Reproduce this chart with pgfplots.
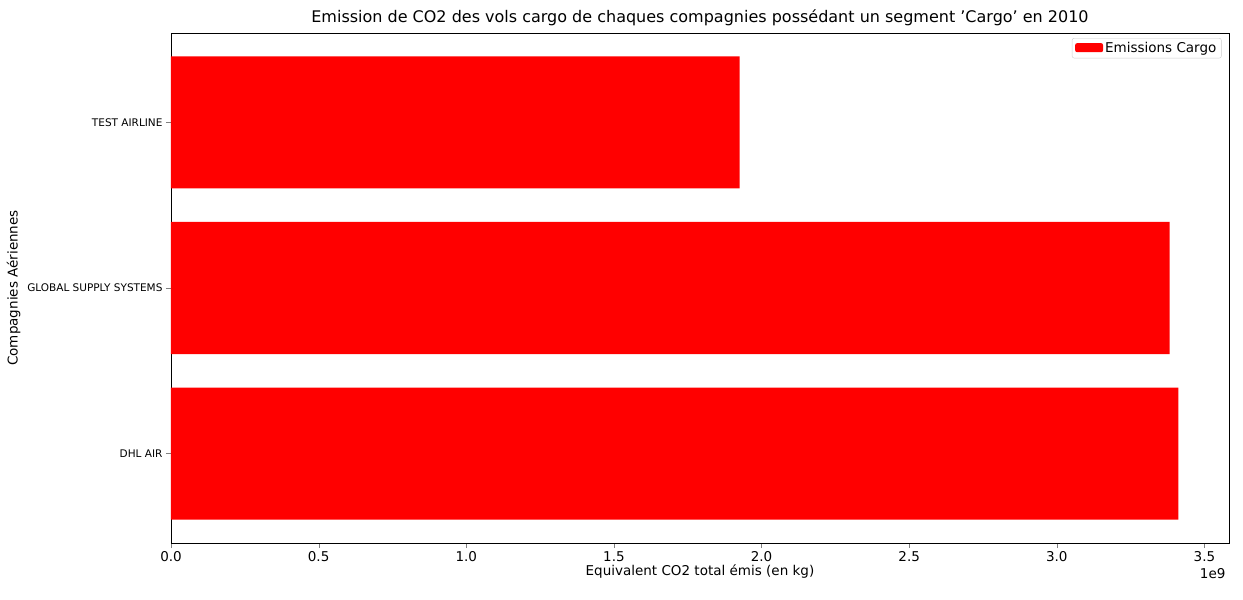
\documentclass[border=0pt]{standalone}
\usepackage{pgfplots}
\pgfplotsset{compat=1.18}
\usepackage{fontspec}
\setmainfont{DejaVu Sans}
\begin{document}
\begin{tikzpicture}
\begin{axis}[
  scale only axis, width=1058pt, height=510pt,
  xbar, bar width=132pt,
  xmin=0, xmax=3.583, ymin=-0.54, ymax=2.54,
  ytick={0,1,2}, yticklabels={DHL AIR,GLOBAL SUPPLY SYSTEMS,TEST AIRLINE},
  yticklabel style={font=\fontsize{10.5}{12}\selectfont},
  xtick={0,0.5,1,1.5,2,2.5,3,3.5},
  xticklabels={0.0,0.5,1.0,1.5,2.0,2.5,3.0,3.5},
  xticklabel style={font=\fontsize{13.5}{15}\selectfont},
  tick align=outside, xtick pos=bottom, ytick pos=left,
  major tick length=5pt,
  xlabel={Equivalent CO2 total émis (en kg)},
  ylabel={Compagnies Aériennes},
  xlabel style={font=\fontsize{13.5}{15}\selectfont, yshift=4pt},
  ylabel style={font=\fontsize{13.5}{15}\selectfont},
  title={Emission de CO2 des vols cargo de chaques compagnies possédant un segment 'Cargo' en 2010},
  title style={font=\fontsize{16}{18}\selectfont, yshift=-2pt},
  legend style={at={(0.993,0.99)}, anchor=north east, font=\fontsize{13.5}{15}\selectfont, draw=black!20, rounded corners=2pt},
  legend image code/.code={\fill[red] (0pt,-4pt) rectangle (28pt,5pt);},
  clip=false,
]
\addplot[fill=red, draw=none] coordinates {(3.412,0) (3.382,1) (1.926,2)};
\addlegendentry{Emissions Cargo}
\node[anchor=north east, font=\fontsize{13.5}{15}\selectfont] at (rel axis cs:1,0) [yshift=-22pt] {1e9};
\end{axis}
\useasboundingbox (current axis.south west) ++(-171pt,-57pt) rectangle ++(1243pt,600pt);
\end{tikzpicture}
\end{document}
